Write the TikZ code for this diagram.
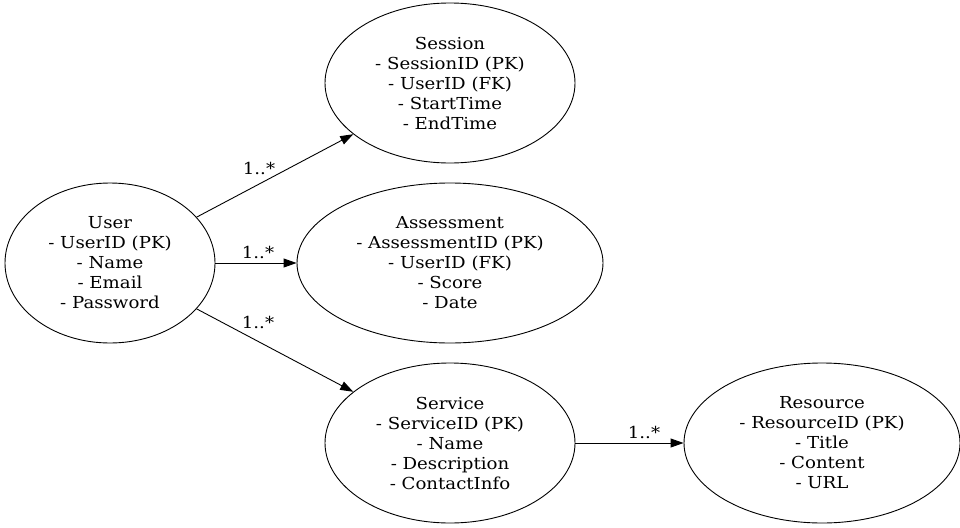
\documentclass[tikz,border=0pt]{standalone}
\usepackage{fontspec}
\setmainfont[FakeStretch=1.1]{DejaVu Serif}
\usetikzlibrary{shapes.geometric,arrows.meta}
\begin{document}
\begin{tikzpicture}[x=1pt,y=-1pt,
  ent/.style={draw,ellipse,inner sep=0pt,line width=0.9pt,align=center,
    font=\fontsize{16.5}{20}\selectfont},
  rel/.style={draw,line width=0.9pt,-{Triangle[length=13pt,width=9pt]}},
  lbl/.style={font=\fontsize{16.5}{20}\selectfont,inner sep=0pt}]
\useasboundingbox (0,0) rectangle (960,527);
\node[ent,minimum width=210pt,minimum height=160pt] (user) at (110,263)
  {User\\- UserID (PK)\\- Name\\- Email\\- Password};
\node[ent,minimum width=250pt,minimum height=160pt] (session) at (450,83)
  {Session\\- SessionID (PK)\\- UserID (FK)\\- StartTime\\- EndTime};
\node[ent,minimum width=306pt,minimum height=160pt] (assess) at (450,263)
  {Assessment\\- AssessmentID (PK)\\- UserID (FK)\\- Score\\- Date};
\node[ent,minimum width=250pt,minimum height=160pt] (service) at (450,443)
  {Service\\- ServiceID (PK)\\- Name\\- Description\\- ContactInfo};
\node[ent,minimum width=276pt,minimum height=160pt] (resource) at (822,443)
  {Resource\\- ResourceID (PK)\\- Title\\- Content\\- URL};
\draw[rel] (user) -- (session) node[lbl] (l1) at (259,168) {1..*};
\draw[rel] (user) -- (assess) node[lbl] (l2) at (258,252) {1..*};
\draw[rel] (user) -- (service) node[lbl] (l3) at (258,322) {1..*};
\draw[rel] (service) -- (resource) node[lbl] (l4) at (644,432) {1..*};
\end{tikzpicture}
\end{document}
